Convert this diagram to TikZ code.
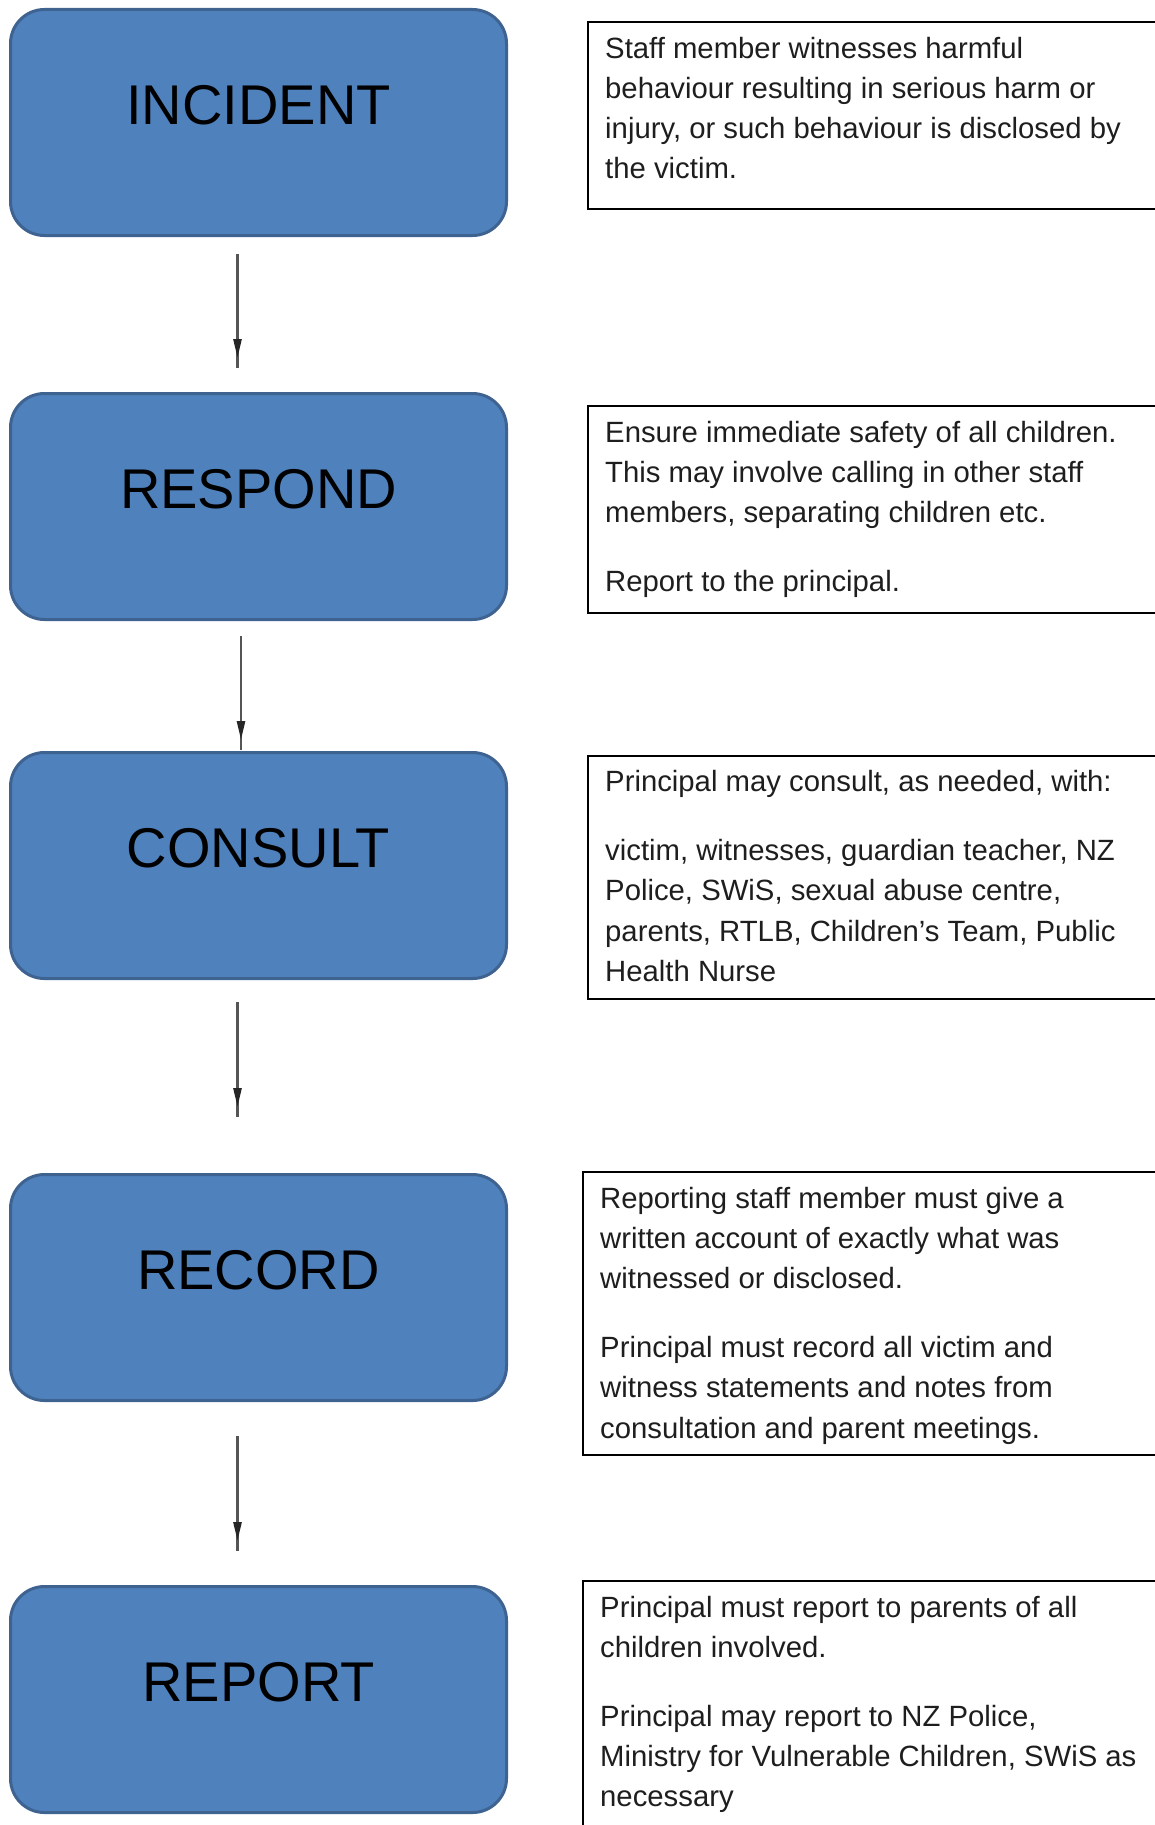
\documentclass[tikz,border=0pt]{standalone}
\usepackage{fontspec}
\setmainfont{Liberation Sans}
\usetikzlibrary{arrows.meta,decorations.markings}
\definecolor{boxfill}{HTML}{4F81BD}
\definecolor{boxedge}{HTML}{3E6391}
\definecolor{conncol}{HTML}{555555}
\definecolor{txt}{HTML}{1E1E1E}
\newcommand{\topstrutx}{\rule{0pt}{22pt}}
\begin{document}
\begin{tikzpicture}[x=1pt,y=-1pt,
  stage/.style={draw=boxedge, line width=3pt, fill=boxfill, rounded corners=34pt,
    minimum width=496pt, minimum height=226pt, inner sep=0pt},
  stagelabel/.style={font=\fontsize{56}{60}\selectfont, text=black, inner sep=0pt},
  descbox/.style={draw=black, line width=2pt, inner sep=0pt, anchor=north west, minimum width=620pt},
  desc/.style={font=\fontsize{29.3}{40.2}\selectfont, text=txt, align=left, inner sep=0pt, anchor=north west},
  conn/.style={draw=conncol, line width=2.6pt, postaction={decorate},
    decoration={markings, mark=at position -10pt with {\arrow[color=black!85]{Triangle[length=19pt,width=8pt]}}}}
]
\useasboundingbox (0,0) rectangle (1155,1825);
\fill[white] (0,0) rectangle (1155,1825);
\clip (0,0) rectangle (1155,1825);

% left stage boxes
\node[stage] (inc) at (258.5,122.5) {};
\node[stage] (res) at (258.5,506.5) {};
\node[stage] (con) at (258.5,865.5) {};
\node[stage] (rec) at (258.5,1287.5) {};
\node[stage] (rep) at (258.5,1699.5) {};

\node[stagelabel] (incT) at ([yshift=-97pt]inc.north) {INCIDENT};
\node[stagelabel] (resT) at ([yshift=-97pt]res.north) {RESPOND};
\node[stagelabel] (conT) at ([yshift=-97pt]con.north) {CONSULT};
\node[stagelabel] (recT) at ([yshift=-97pt]rec.north) {RECORD};
\node[stagelabel] (repT) at ([yshift=-97pt]rep.north) {REPORT};

% connectors
\draw[conn] ([xshift=-21pt,yshift=-17pt]inc.south) -- ([xshift=-21pt,yshift=24pt]res.north);
\draw[conn] ([xshift=-17.5pt,yshift=-15pt]res.south) -- ([xshift=-17.5pt,yshift=1pt]con.north);
\draw[conn] ([xshift=-21pt,yshift=-22pt]con.south) -- ([xshift=-21pt,yshift=56pt]rec.north);
\draw[conn] ([xshift=-21pt,yshift=-34pt]rec.south) -- ([xshift=-21pt,yshift=34pt]rep.north);

% description boxes
\node[descbox, minimum height=187pt] (d1) at (587,21) {};
\node[descbox, minimum height=207pt] (d2) at (587,405) {};
\node[descbox, minimum height=243.5pt] (d3) at (587,754.5) {};
\node[descbox, minimum height=283pt] (d4) at (582,1171) {};
\node[descbox, minimum height=300pt] (d5) at (582,1580) {};

\node[desc] (t1) at ([xshift=18pt,yshift=-15pt]d1.north west) {\topstrutx Staff member witnesses harmful\\ behaviour resulting in serious harm or\\ injury, or such behaviour is disclosed by\\ the victim.};
\node[desc] (t2) at ([xshift=18pt,yshift=-15pt]d2.north west) {\topstrutx Ensure immediate safety of all children.\\ This may involve calling in other staff\\ members, separating children etc.\\[28.8pt] Report to the principal.};
\node[desc] (t3) at ([xshift=18pt,yshift=-15pt]d3.north west) {\topstrutx Principal may consult, as needed, with:\\[28.8pt] victim, witnesses, guardian teacher, NZ\\ Police, SWiS, sexual abuse centre,\\ parents, RTLB, Children’s Team, Public\\ Health Nurse};
\node[desc] (t4) at ([xshift=18pt,yshift=-15pt]d4.north west) {\topstrutx Reporting staff member must give a\\ written account of exactly what was\\ witnessed or disclosed.\\[28.8pt] Principal must record all victim and\\ witness statements and notes from\\ consultation and parent meetings.};
\node[desc] (t5) at ([xshift=18pt,yshift=-15pt]d5.north west) {\topstrutx Principal must report to parents of all\\ children involved.\\[28.8pt] Principal may report to NZ Police,\\ Ministry for Vulnerable Children, SWiS as\\ necessary};
\end{tikzpicture}
\end{document}
